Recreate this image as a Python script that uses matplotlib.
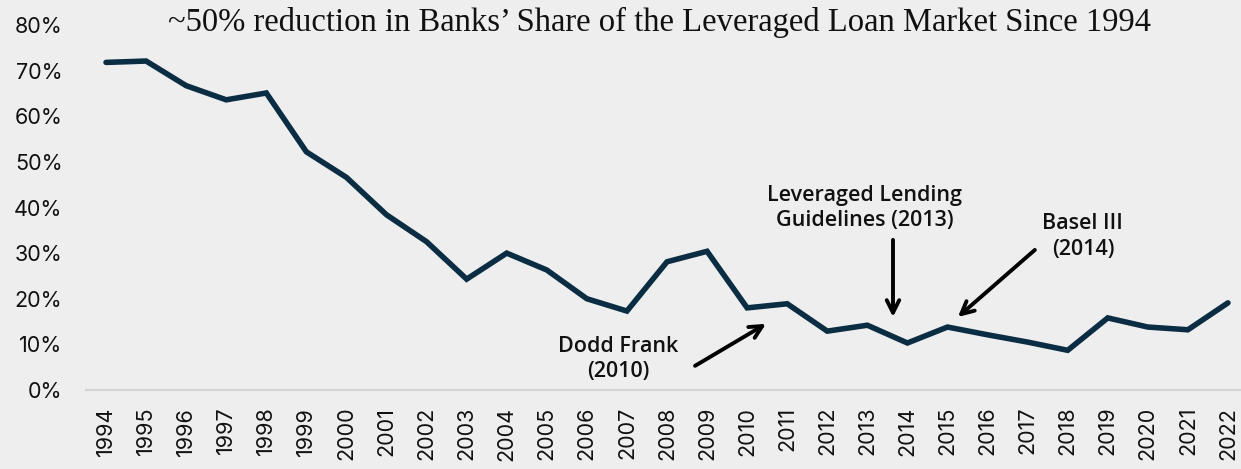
import matplotlib
matplotlib.use("Agg")
import matplotlib.pyplot as plt
from matplotlib.ticker import FuncFormatter

years = [str(y) for y in range(1994, 2023)]
bank_share = [71.8, 72.1, 66.7, 63.6, 65.1, 52.2, 46.6, 38.4, 32.5, 24.3,
              30.0, 26.3, 20.0, 17.3, 28.1, 30.4, 18.0, 18.9, 12.9, 14.2,
              10.3, 13.8, 12.1, 10.5, 8.7, 15.8, 13.8, 13.2, 19.1]
y_ticks = [0, 10, 20, 30, 40, 50, 60, 70, 80]
title = "~50% reduction in Banks\u2019 Share of the Leveraged Loan Market Since 1994"

W, H = 1241, 469
fig = plt.figure(figsize=(W / 100, H / 100), dpi=100)
bg = "#eeeeee"
fig.patch.set_facecolor(bg)
ax = fig.add_axes([86 / W, 1 - 390 / H, (1248 - 86) / W, (390 - 25) / H])
ax.set_facecolor(bg)

x = list(range(len(years)))
ax.plot(x, bank_share, color="#0b2d43", lw=4.0, solid_joinstyle="miter",
        solid_capstyle="round")

tick_font = "Inter"
ax.set_xlim(-0.5, len(years) - 0.5)
ax.set_ylim(0, 80)
ax.set_xticks(x)
ax.set_xticklabels(years, rotation=90, fontsize=15.5, family=tick_font, color="#111111")
ax.set_yticks(y_ticks)
ax.yaxis.set_major_formatter(FuncFormatter(lambda v, p: f"{int(v)}%"))
for lab in ax.get_yticklabels():
    lab.set_fontsize(15.5)
    lab.set_family(tick_font)
    lab.set_color("#111111")
ax.tick_params(axis="both", length=0)
ax.tick_params(axis="y", pad=17)
ax.tick_params(axis="x", pad=12)
for s in ["top", "right", "left"]:
    ax.spines[s].set_visible(False)
ax.spines["bottom"].set_color("#d4d4d4")
ax.spines["bottom"].set_linewidth(1.6)

fig.text(660 / W, 1 - 22 / H, title, ha="center", va="center",
         fontsize=23.5, family="Liberation Serif", color="#111111")

ann_kw = dict(fontsize=15.5, fontweight="semibold", family="Open Sans", color="#111111",
              ha="center", va="center", linespacing=1.3)
arrow = dict(arrowstyle="->,head_width=0.45,head_length=0.9", lw=2.8, color="black",
             shrinkA=0, shrinkB=0)

ax.text(12.78, 6.8, "Dodd Frank\n(2010)", **ann_kw)
ax.annotate("", xy=(16.47, 14.5), xytext=(14.70, 5.3), arrowprops=arrow)

ax.text(18.94, 39.9, "Leveraged Lending\nGuidelines (2013)", **ann_kw)
ax.annotate("", xy=(19.64, 16.0), xytext=(19.64, 32.9), arrowprops=arrow)

ax.text(24.38, 33.6, "Basel III\n(2014)", **ann_kw)
ax.annotate("", xy=(21.26, 16.0), xytext=(23.18, 30.7), arrowprops=arrow)

fig.savefig("out.png", dpi=100, facecolor=bg)
